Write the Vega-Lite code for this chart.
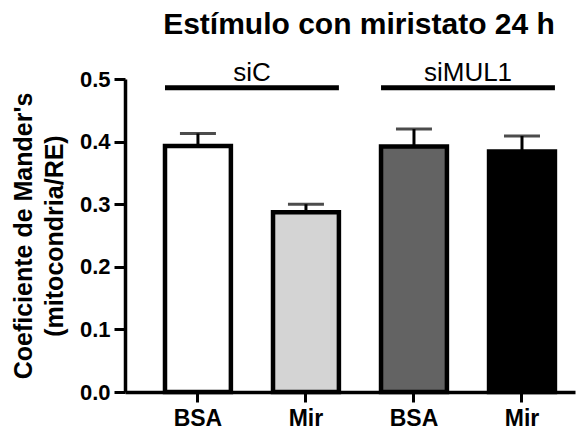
{
  "$schema": "https://vega.github.io/schema/vega-lite/v6.json",
  "autosize": {"type": "none"},
  "width": 450,
  "height": 313,
  "padding": {"left": 125, "top": 79, "right": 13, "bottom": 37},
  "background": "white",
  "config": {
    "font": "Liberation Sans",
    "view": {"stroke": null},
    "axis": {"grid": false, "domainColor": "black", "tickColor": "black", "labelColor": "black", "titleColor": "black"}
  },
  "title": {
    "text": "Estímulo con miristato 24 h",
    "fontSize": 30,
    "fontWeight": "bold",
    "frame": "group",
    "anchor": "middle",
    "baseline": "alphabetic",
    "offset": -4,
    "dx": 9,
    "color": "black"
  },
  "datasets": {
    "barras": [
      {"id": "siC-BSA", "grupo": "siC", "cond": "BSA", "media": 0.393, "sup": 0.413},
      {"id": "siC-Mir", "grupo": "siC", "cond": "Mir", "media": 0.287, "sup": 0.3},
      {"id": "siMUL1-BSA", "grupo": "siMUL1", "cond": "BSA", "media": 0.392, "sup": 0.42},
      {"id": "siMUL1-Mir", "grupo": "siMUL1", "cond": "Mir", "media": 0.384, "sup": 0.409}
    ],
    "grupos": [
      {"grupo": "siC", "desde": "siC-BSA", "hasta": "siC-Mir"},
      {"grupo": "siMUL1", "desde": "siMUL1-BSA", "hasta": "siMUL1-Mir"}
    ]
  },
  "layer": [
    {
      "data": {"name": "barras"},
      "layer": [
        {
          "mark": {"type": "bar", "stroke": "black", "strokeWidth": 4.5, "strokeJoin": "miter"},
          "encoding": {
            "x": {
              "field": "id",
              "type": "nominal",
              "scale": {"domain": ["siC-BSA", "siC-Mir", "siMUL1-BSA", "siMUL1-Mir"], "paddingInner": 0.39, "paddingOuter": 0.278, "align": 0.666},
              "axis": {
                "title": null,
                "labelExpr": "split(datum.label, '-')[1]",
                "labelAngle": 0,
                "labelFontSize": 23,
                "labelFontWeight": "bold",
                "labelPadding": 5,
                "tickSize": 10,
                "tickWidth": 3,
                "domainWidth": 3.5
              }
            },
            "y": {
              "field": "media",
              "type": "quantitative",
              "scale": {"domain": [0, 0.5], "nice": false},
              "axis": {
                "title": ["Coeficiente de Mander's", "(mitocondria/RE)"],
                "titleFontSize": 25,
                "titleFontWeight": "bold",
                "titleLineHeight": 31,
                "titlePadding": 12,
                "values": [0, 0.1, 0.2, 0.3, 0.4, 0.5],
                "format": ".1f",
                "labelFontSize": 22,
                "labelFontWeight": "bold",
                "labelPadding": 4,
                "tickSize": 11,
                "tickWidth": 3,
                "domainWidth": 3.5
              }
            },
            "color": {
              "field": "id",
              "type": "nominal",
              "scale": {"domain": ["siC-BSA", "siC-Mir", "siMUL1-BSA", "siMUL1-Mir"], "range": ["#ffffff", "#d4d4d4", "#636363", "#000000"]},
              "legend": null
            }
          }
        },
        {
          "mark": {"type": "rule", "color": "black", "strokeWidth": 3},
          "encoding": {
            "x": {"field": "id", "type": "nominal"},
            "y": {"field": "media", "type": "quantitative"},
            "y2": {"field": "sup"}
          }
        },
        {
          "mark": {"type": "tick", "color": "black", "size": 36, "thickness": 3},
          "encoding": {
            "x": {"field": "id", "type": "nominal"},
            "y": {"field": "sup", "type": "quantitative"}
          }
        }
      ]
    },
    {
      "data": {"name": "grupos"},
      "layer": [
        {
          "mark": {"type": "rule", "color": "black", "strokeWidth": 5},
          "encoding": {
            "x": {"field": "desde", "type": "nominal", "bandPosition": 0},
            "x2": {"field": "hasta", "bandPosition": 1},
            "y": {"datum": 0.486, "type": "quantitative"}
          }
        },
        {
          "mark": {"type": "text", "fontSize": 26, "baseline": "alphabetic", "align": "center", "color": "black", "clip": false},
          "encoding": {
            "x": {"field": "desde", "type": "nominal", "bandPosition": 1.32},
            "y": {"datum": 0.497, "type": "quantitative"},
            "text": {"field": "grupo"}
          }
        }
      ]
    }
  ]
}
